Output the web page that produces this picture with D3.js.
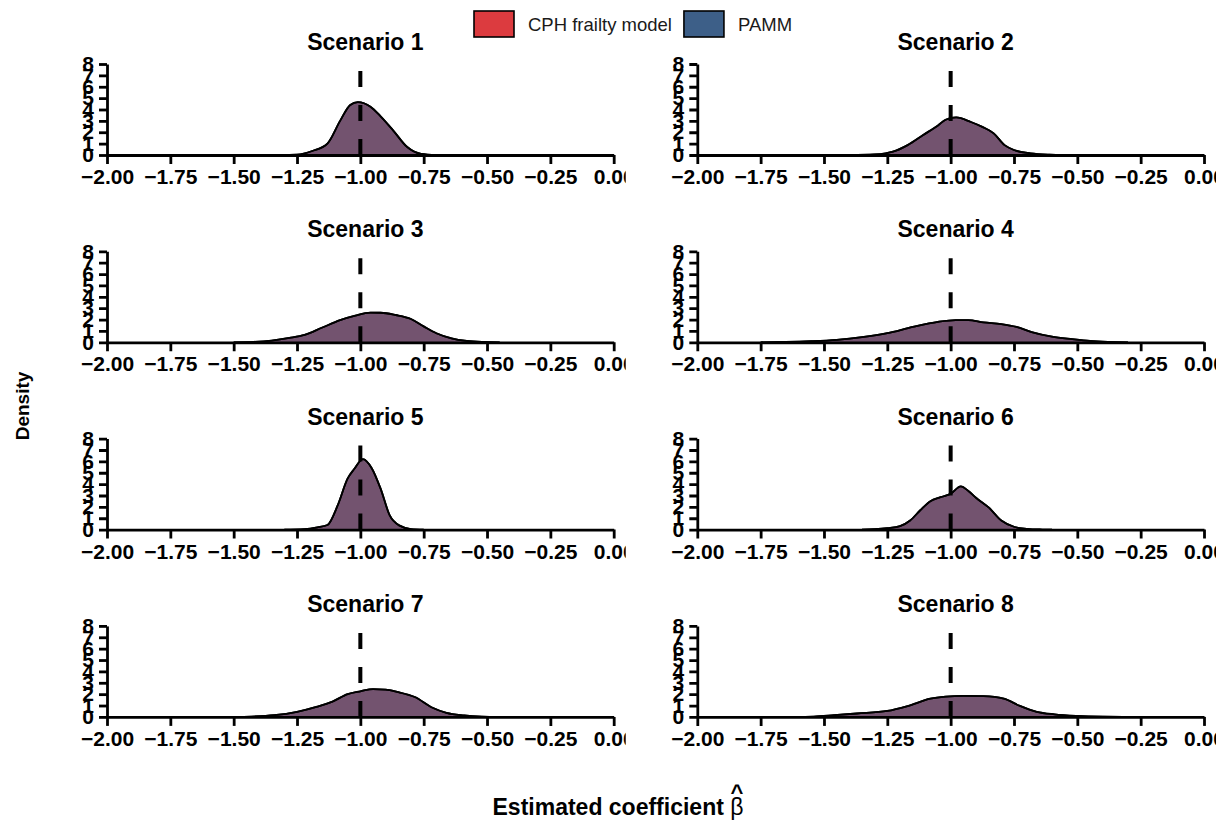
<!DOCTYPE html>
<html><head><meta charset="utf-8">
<script src="https://cdn.jsdelivr.net/npm/d3@7"></script>
<style>
body{margin:0;background:#fff}
svg{display:block}
text{font-family:"Liberation Sans",Arial,Helvetica,sans-serif}
</style>
</head><body>
<svg id="chart" width="1229" height="840"></svg>
<script>
// ---------------- data ----------------
const scenarios = ["Scenario 1","Scenario 2","Scenario 3","Scenario 4","Scenario 5","Scenario 6","Scenario 7","Scenario 8"];
const seriesNames = ["CPH frailty model","PAMM"];
const seriesColors = ["#DC3B3F","#3D5F88"];
const xTicks = [-2,-1.75,-1.5,-1.25,-1,-0.75,-0.5,-0.25,0];
const yTicks = [0,1,2,3,4,5,6,7,8];
const trueBeta = -1;
const xLabel = "Estimated coefficient ";
const yLabel = "Density";

// density estimates [beta, density] (both models give coinciding curves)
const density1 = [[-1.32,0],[-1.25,0.03],[-1.19,0.35],[-1.13,1.0],[-1.08,3.0],[-1.04,4.4],[-1.01,4.65],[-0.96,4.25],[-0.92,3.4],[-0.87,2.15],[-0.815,0.7],[-0.76,0.1],[-0.70,0]];
const density2 = [[-1.40,0],[-1.30,0.05],[-1.257,0.15],[-1.228,0.29],[-1.17,0.87],[-1.11,1.74],[-1.05,2.6],[-1.02,3.1],[-0.978,3.3],[-0.92,2.9],[-0.875,2.47],[-0.83,1.9],[-0.787,0.87],[-0.75,0.44],[-0.684,0.15],[-0.61,0.03],[-0.55,0]];
const density3 = [[-1.50,0],[-1.42,0.04],[-1.35,0.15],[-1.28,0.38],[-1.22,0.65],[-1.15,1.3],[-1.08,1.95],[-1.02,2.35],[-0.96,2.6],[-0.92,2.6],[-0.86,2.4],[-0.80,2.05],[-0.75,1.4],[-0.70,0.8],[-0.64,0.35],[-0.58,0.12],[-0.52,0.03],[-0.45,0]];
const density4 = [[-1.75,0],[-1.65,0.03],[-1.55,0.1],[-1.45,0.22],[-1.35,0.45],[-1.25,0.8],[-1.15,1.35],[-1.05,1.8],[-0.98,1.95],[-0.93,1.95],[-0.87,1.75],[-0.80,1.6],[-0.74,1.35],[-0.68,0.9],[-0.60,0.5],[-0.52,0.28],[-0.45,0.12],[-0.38,0.04],[-0.30,0]];
const density5 = [[-1.30,0],[-1.22,0.05],[-1.17,0.2],[-1.13,0.4],[-1.09,2.1],[-1.05,4.5],[-1.025,5.3],[-0.99,6.2],[-0.955,5.4],[-0.92,3.6],[-0.885,1.3],[-0.845,0.35],[-0.80,0.05],[-0.75,0]];
const density6 = [[-1.35,0],[-1.30,0.03],[-1.25,0.12],[-1.20,0.3],[-1.16,0.8],[-1.12,1.7],[-1.08,2.5],[-1.04,2.85],[-1.00,3.15],[-0.96,3.8],[-0.93,3.4],[-0.90,2.8],[-0.85,1.95],[-0.80,0.8],[-0.75,0.25],[-0.70,0.07],[-0.65,0.01],[-0.60,0]];
const density7 = [[-1.50,0],[-1.43,0.03],[-1.34,0.15],[-1.25,0.45],[-1.17,0.9],[-1.11,1.35],[-1.05,2.0],[-1.00,2.25],[-0.95,2.45],[-0.90,2.4],[-0.855,2.2],[-0.785,1.75],[-0.715,0.8],[-0.66,0.35],[-0.59,0.13],[-0.52,0.03],[-0.45,0]];
const density8 = [[-1.62,0],[-1.54,0.03],[-1.46,0.15],[-1.37,0.3],[-1.25,0.52],[-1.17,0.95],[-1.08,1.6],[-1.02,1.78],[-0.95,1.85],[-0.87,1.82],[-0.79,1.6],[-0.73,1.0],[-0.66,0.45],[-0.59,0.23],[-0.50,0.09],[-0.40,0.02],[-0.32,0]];
const cphDensities  = [density1,density2,density3,density4,density5,density6,density7,density8];
const pammDensities = [density1,density2,density3,density4,density5,density6,density7,density8];

// ---------------- layout ----------------
const svg = d3.select("#chart");
const colX = [107, 697.3];
const rowBase = [155, 342.3, 529.6, 716.9];
const W = 506.7, H = 91;
const axisFont = 21;

const x = d3.scaleLinear().domain([-2, 0]).range([0, W]);
const y = d3.scaleLinear().domain([0, 8]).range([H, 0]);
const curve = d3.curveMonotoneX;
const area = d3.area().x(d => x(d[0])).y0(y(0)).y1(d => y(d[1])).curve(curve);
const line = d3.line().x(d => x(d[0])).y(d => y(d[1])).curve(curve);

const defs = svg.append("defs");

scenarios.forEach((name, i) => {
  const c = i % 2, r = Math.floor(i / 2);
  const g = svg.append("g").attr("transform", `translate(${colX[c]},${rowBase[r] - H})`);
  const cid = "clip" + i;
  defs.append("clipPath").attr("id", cid).append("rect")
    .attr("x", -90).attr("y", -130).attr("width", W + 12 + 90).attr("height", H + 180);
  const p = g.append("g").attr("clip-path", `url(#${cid})`);

  // title
  p.append("text").attr("x", W / 2 + 5).attr("y", -14)
    .attr("text-anchor", "middle").attr("font-size", 23).attr("font-weight", "bold")
    .attr("fill", "#000").text(name);

  // CPH density (underneath) and PAMM density (semi-transparent on top)
  p.append("path").datum(cphDensities[i]).attr("d", area)
    .attr("fill", seriesColors[0]);
  p.append("path").datum(pammDensities[i]).attr("d", area)
    .attr("fill", seriesColors[1]).attr("fill-opacity", 0.66);
  p.append("path").datum(cphDensities[i]).attr("d", line)
    .attr("fill", "none").attr("stroke", "#000").attr("stroke-width", 1.8);
  p.append("path").datum(pammDensities[i]).attr("d", line)
    .attr("fill", "none").attr("stroke", "#000").attr("stroke-width", 1.8);

  // true value
  p.append("line").attr("x1", x(trueBeta)).attr("x2", x(trueBeta))
    .attr("y1", y(0)).attr("y2", y(8))
    .attr("stroke", "#000").attr("stroke-width", 4).attr("stroke-dasharray", "16,18");

  // axes
  const xa = p.append("g").attr("transform", `translate(0,${H})`)
    .call(d3.axisBottom(x).tickValues(xTicks).tickFormat(d3.format(".2f")).tickSize(9).tickSizeOuter(0).tickPadding(5));
  const ya = p.append("g")
    .call(d3.axisLeft(y).tickValues(yTicks).tickFormat(d3.format("d")).tickSize(8).tickSizeOuter(0).tickPadding(5));
  [xa, ya].forEach(a => {
    a.select(".domain").attr("stroke", "#000").attr("stroke-width", 2.8);
    a.selectAll(".tick line").attr("stroke", "#000").attr("stroke-width", 2.8);
    a.selectAll(".tick text").attr("fill", "#000").attr("font-size", axisFont)
      .attr("font-weight", "bold").attr("font-family", '"Liberation Sans",Arial,sans-serif');
  });
});

// y label
svg.append("text").attr("transform", "translate(29,406) rotate(-90)")
  .attr("text-anchor", "middle").attr("font-size", 19).attr("font-weight", "bold")
  .attr("fill", "#000").text(yLabel);

// x label with beta hat
const xl = svg.append("text").attr("x", 618).attr("y", 815)
  .attr("text-anchor", "middle").attr("font-size", 23).attr("font-weight", "bold").attr("fill", "#000");
xl.append("tspan").text(xLabel);
const beta = xl.append("tspan").attr("font-weight", "normal").text("β");
{
  const n = beta.node();
  const start = n.getStartPositionOfChar(0), end = n.getEndPositionOfChar(0);
  svg.append("text").attr("x", (start.x + end.x) / 2).attr("y", 800)
    .attr("text-anchor", "middle").attr("font-size", 22).attr("font-weight", "bold")
    .attr("fill", "#000").text("^");
}

// legend
const leg = svg.append("g");
let lx = 474;
seriesNames.forEach((s, i) => {
  leg.append("rect").attr("x", lx).attr("y", 11).attr("width", 40).attr("height", 26)
    .attr("fill", seriesColors[i]).attr("stroke", "#000").attr("stroke-width", 1.6);
  const t = leg.append("text").attr("x", lx + 54).attr("y", 30.5)
    .attr("font-size", 18.5).attr("fill", "#1a1a1a").text(s);
  lx = lx + 54 + t.node().getComputedTextLength() + 12;
});
</script>
</body></html>
